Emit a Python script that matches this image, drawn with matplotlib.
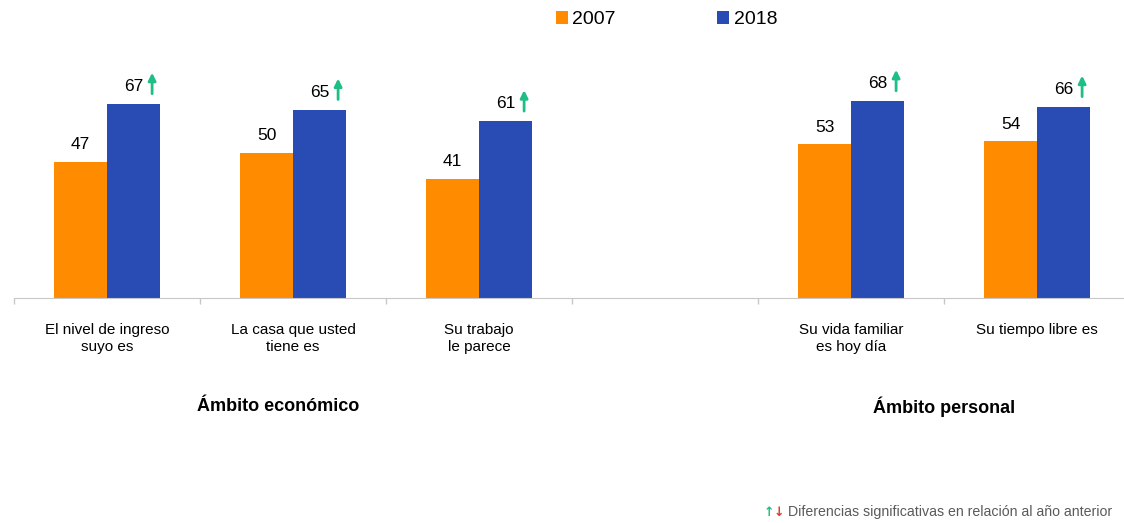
import numpy as np
import matplotlib
matplotlib.use("Agg")
import matplotlib.pyplot as plt

plt.rcParams["font.family"] = ["Liberation Sans", "DejaVu Sans"]

categories = ["El nivel de ingreso\nsuyo es", "La casa que usted\ntiene es",
              "Su trabajo\nle parece", "Su vida familiar\nes hoy día",
              "Su tiempo libre es"]
groups = ["Ámbito económico", "Ámbito personal"]
vals_2007 = [47, 50, 41, 53, 54]
vals_2018 = [67, 65, 61, 68, 66]
sig_up = [True, True, True, True, True]

ORANGE = "#FF8C00"
BLUE = "#284CB4"
GREEN = "#1DBF85"
RED = "#E03A2E"
GRID = "#C8C8C8"

# one empty slot between the two groups
pos = np.array([i if i < 3 else i + 1 for i in range(len(categories))])
w = 0.285

fig = plt.figure(figsize=(11.24, 5.23), dpi=100)
ax = fig.add_axes([14 / 1124, 0.4302, 1116 / 1124, 0.4436])
ax.bar(pos - w / 2, vals_2007, w, color=ORANGE, label="2007")
ax.bar(pos + w / 2, vals_2018, w, color=BLUE, label="2018")
ax.set_xlim(-0.5, 5.5)
ax.set_ylim(0, 80)

for x, a, b, up in zip(pos, vals_2007, vals_2018, sig_up):
    ax.annotate(f"{a}", (x - w / 2, a), xytext=(0, 7), textcoords="offset points",
                ha="center", va="bottom", fontsize=12.5)
    ax.annotate(f"{b}", (x + w / 2, b), xytext=(0, 7), textcoords="offset points",
                ha="center", va="bottom", fontsize=12.5)
    if up:
        ax.annotate("", xy=(x + w / 2 + 0.10, b + 31 / 2.9),
                    xytext=(x + w / 2 + 0.10, b + 10 / 2.9),
                    arrowprops=dict(arrowstyle="-|>", color=GREEN, lw=2,
                                    mutation_scale=11, shrinkA=0, shrinkB=0))

for s in ["left", "right", "top"]:
    ax.spines[s].set_visible(False)
ax.spines["bottom"].set_color(GRID)
ax.set_yticks([])
ax.set_xticks(pos)
ax.set_xticklabels(categories, fontsize=11, linespacing=1.3)
ax.tick_params(axis="x", length=0, pad=18)
ax.set_xticks(np.arange(-0.5, 6.0, 1.0), minor=True)
ax.tick_params(axis="x", which="minor", length=4, color=GRID, width=1)

ax.text(0.92, -37.5, groups[0], ha="center", va="center", fontsize=13,
        fontweight="bold", clip_on=False)
ax.text(4.5, -37.5, groups[1], ha="center", va="center", fontsize=13,
        fontweight="bold", clip_on=False)

fig.legend(loc="center", bbox_to_anchor=(0.593, 0.962), ncol=2, frameon=False,
           fontsize=14, handlelength=0.6, handleheight=0.6, handletextpad=0.25,
           columnspacing=5.2)

fig.text(764 / 1124, 1 - 512 / 523, "↑", color=GREEN, fontsize=9,
         fontweight="bold", ha="left", va="center", family="DejaVu Sans")
fig.text(774 / 1124, 1 - 512 / 523, "↓", color=RED, fontsize=9,
         fontweight="bold", ha="left", va="center", family="DejaVu Sans")
fig.text(788 / 1124, 1 - 512 / 523,
         "Diferencias significativas en relación al año anterior",
         color="#5a5a5a", fontsize=10.2, ha="left", va="center")

fig.savefig("out.png", dpi=100)
